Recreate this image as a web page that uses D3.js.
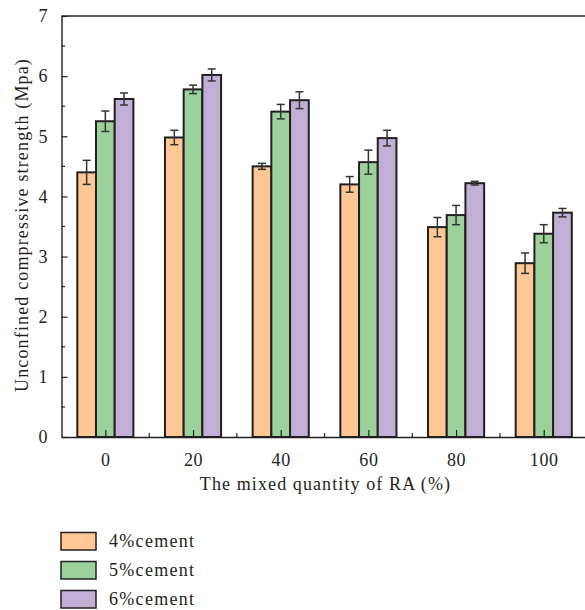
<!DOCTYPE html>
<html>
<head>
<meta charset="utf-8">
<script src="https://cdn.jsdelivr.net/npm/d3@7"></script>
<style>
  html, body { margin: 0; padding: 0; background: #fff; }
  svg { display: block; }
  text { font-family: "Liberation Serif", "DejaVu Serif", serif; fill: #231f20; }
</style>
</head>
<body>
<svg id="chart" width="585" height="610"></svg>
<script>
// RA replacement levels (%)
const categories = [0, 20, 40, 60, 80, 100];
const seriesNames = ["4%cement", "5%cement", "6%cement"];

// Mean unconfined compressive strength (MPa) per cement content
const cement4 = [4.40, 4.98, 4.50, 4.20, 3.49, 2.89];
const cement5 = [5.25, 5.78, 5.41, 4.57, 3.69, 3.38];
const cement6 = [5.62, 6.02, 5.60, 4.97, 4.22, 3.73];

// Error bar half-widths (MPa)
const err4 = [0.20, 0.12, 0.05, 0.13, 0.16, 0.17];
const err5 = [0.17, 0.07, 0.12, 0.20, 0.16, 0.15];
const err6 = [0.10, 0.10, 0.14, 0.13, 0.03, 0.07];

const yTicks = [0, 1, 2, 3, 4, 5, 6, 7];
const xTicks = [0, 20, 40, 60, 80, 100];

const colors = ["#fdc896", "#9dd19b", "#c1afd5"];

const series = [
  { name: seriesNames[0], values: cement4, errs: err4 },
  { name: seriesNames[1], values: cement5, errs: err5 },
  { name: seriesNames[2], values: cement6, errs: err6 }
];

const svg = d3.select("#chart");

const x = d3.scaleLinear().domain([-10, 110]).range([61.5, 587.6]);
const y = d3.scaleLinear().domain([0, 7]).range([437, 16]);

// bar geometry within each group, in data units
const barW = 18.7 / (x(1) - x(0));
const offsets = [-1, 0, 1];

const plot = svg.append("g");

series.forEach((s, si) => {
  const g = plot.append("g");
  g.selectAll("rect")
    .data(categories.map((c, i) => ({ c, v: s.values[i], e: s.errs[i] })))
    .join("rect")
    .attr("x", d => x(d.c + (offsets[si] - 0.5) * barW))
    .attr("width", d => x(d.c + (offsets[si] + 0.5) * barW) - x(d.c + (offsets[si] - 0.5) * barW))
    .attr("y", d => y(d.v))
    .attr("height", d => y(0) - y(d.v))
    .attr("fill", colors[si])
    .attr("stroke", "#231f20")
    .attr("stroke-width", 2);
});

// error bars
series.forEach((s, si) => {
  const g = plot.append("g").attr("stroke", "#333").attr("stroke-width", 1.5).attr("fill", "none");
  categories.forEach((c, i) => {
    const cx = x(c + offsets[si] * barW);
    const hi = y(s.values[i] + s.errs[i]);
    const lo = y(s.values[i] - s.errs[i]);
    g.append("line").attr("x1", cx).attr("x2", cx).attr("y1", hi).attr("y2", lo);
    g.append("line").attr("x1", cx - 4).attr("x2", cx + 4).attr("y1", hi).attr("y2", hi);
    g.append("line").attr("x1", cx - 4).attr("x2", cx + 4).attr("y1", lo).attr("y2", lo);
  });
});

// axes: ticks point inward
const axisColor = "#231f20";

const yAxis = d3.axisLeft(y).tickValues(yTicks).tickFormat(d3.format("d")).tickSizeInner(-6).tickSizeOuter(0).tickPadding(14);
const yG = svg.append("g").attr("transform", `translate(${x(-10)},0)`).call(yAxis);
yG.select(".domain").attr("stroke", axisColor).attr("stroke-width", 1.4);
yG.selectAll(".tick line").attr("stroke", axisColor).attr("stroke-width", 1.2);
yG.selectAll(".tick text").attr("font-size", 18).attr("font-family", "Liberation Serif").attr("fill", axisColor);

// y minor ticks
const yMinor = d3.range(0.5, 7, 1);
svg.append("g").selectAll("line").data(yMinor).join("line")
  .attr("x1", x(-10)).attr("x2", x(-10) + 3.5)
  .attr("y1", d => y(d)).attr("y2", d => y(d))
  .attr("stroke", axisColor).attr("stroke-width", 1.2);

const xAxis = d3.axisBottom(x).tickValues(xTicks).tickFormat(d3.format("d")).tickSizeInner(-7).tickSizeOuter(0).tickPadding(16);
const xG = svg.append("g").attr("transform", `translate(0,${y(0)})`).call(xAxis);
xG.select(".domain").attr("stroke", axisColor).attr("stroke-width", 1.4);
xG.selectAll(".tick line").attr("stroke", axisColor).attr("stroke-width", 1.2);
xG.selectAll(".tick text").attr("font-size", 18).attr("font-family", "Liberation Serif")
  .attr("letter-spacing", 0.6).attr("fill", axisColor);

// x minor ticks
const xMinor = d3.range(10, 110, 20);
svg.append("g").selectAll("line").data(xMinor).join("line")
  .attr("x1", d => x(d)).attr("x2", d => x(d))
  .attr("y1", y(0)).attr("y2", y(0) - 4)
  .attr("stroke", axisColor).attr("stroke-width", 1.2);

// top frame line
svg.append("line")
  .attr("x1", x(-10)).attr("x2", x(110))
  .attr("y1", y(7)).attr("y2", y(7))
  .attr("stroke", axisColor).attr("stroke-width", 1.4);

// axis titles
svg.append("text")
  .attr("x", 325.5)
  .attr("y", 490)
  .attr("text-anchor", "middle")
  .attr("font-size", 18)
  .attr("letter-spacing", 1.1)
  .text("The mixed quantity of RA (%)");

svg.append("text")
  .attr("transform", `translate(28,225) rotate(-90)`)
  .attr("text-anchor", "middle")
  .attr("font-size", 18)
  .attr("letter-spacing", 1.15)
  .text("Unconfined compressive strength (Mpa)");

// legend
const legend = svg.append("g");
series.forEach((s, si) => {
  const ly = 532.5 + si * 29;
  legend.append("rect")
    .attr("x", 61).attr("y", ly)
    .attr("width", 35).attr("height", 17.5)
    .attr("fill", colors[si])
    .attr("stroke", "#231f20").attr("stroke-width", 1.5);
  legend.append("text")
    .attr("x", 109).attr("y", ly + 14.5)
    .attr("font-size", 18)
    .attr("letter-spacing", 1.3)
    .text(s.name);
});
</script>
</body>
</html>
